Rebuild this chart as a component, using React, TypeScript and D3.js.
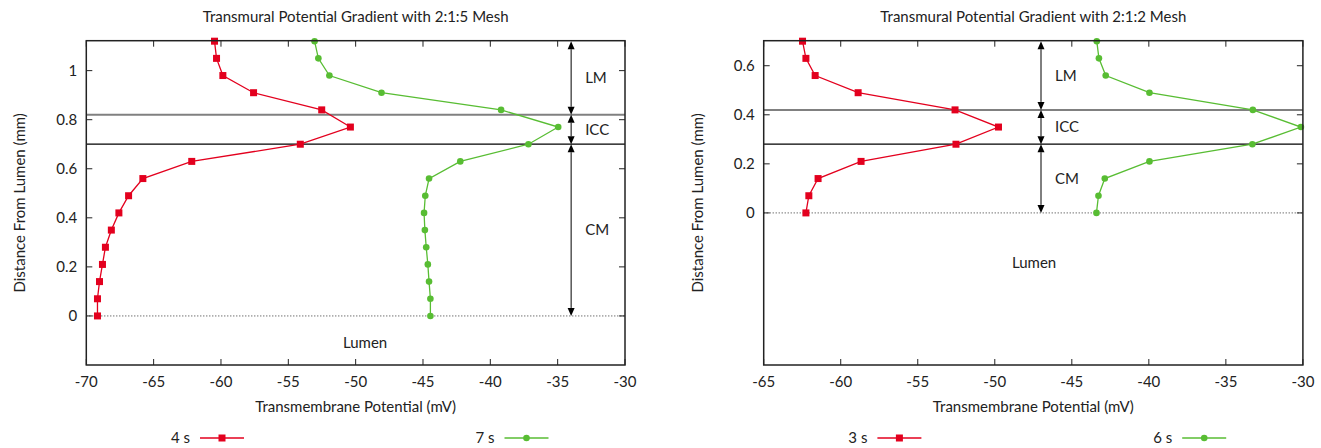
import React from 'react';
import * as d3 from 'd3';

// distance from lumen (mm) for each sample
const depth5 = [0, 0.07, 0.14, 0.21, 0.28, 0.35, 0.42, 0.49, 0.56, 0.63, 0.7, 0.77, 0.84, 0.91, 0.98, 1.05, 1.12];
const vm4s = [-69.17, -69.17, -69.02, -68.8, -68.58, -68.14, -67.58, -66.86, -65.8, -62.17, -54.11, -50.39, -52.52, -57.58, -59.86, -60.33, -60.48];
const vm7s = [-44.45, -44.45, -44.55, -44.64, -44.76, -44.86, -44.92, -44.83, -44.55, -42.23, -37.17, -34.96, -39.2, -48.08, -51.95, -52.77, -53.05];

const depth2 = [0, 0.07, 0.14, 0.21, 0.28, 0.35, 0.42, 0.49, 0.56, 0.63, 0.7];
const vm3s = [-62.26, -62.07, -61.47, -58.68, -52.52, -49.76, -52.58, -58.87, -61.66, -62.26, -62.48];
const vm6s = [-43.4, -43.27, -42.86, -39.96, -33.28, -30.13, -33.25, -39.96, -42.8, -43.24, -43.38];

const xTicks5 = [-70, -65, -60, -55, -50, -45, -40, -35, -30];
const xTicks2 = [-65, -60, -55, -50, -45, -40, -35, -30];
const yTicks5 = [0, 0.2, 0.4, 0.6, 0.8, 1];
const yTicks2 = [0, 0.2, 0.4, 0.6];

const RED = '#e3001e';
const GREEN = '#58bd33';
const FONT = 'Lato, "Open Sans", sans-serif';
const FS = 15;

type Series = { label: string; values: number[]; color: string; marker: 'square' | 'circle' };

type PanelProps = {
  left: number;
  right: number;
  title: string;
  xDomain: [number, number];
  yDomain: [number, number];
  xTicks: number[];
  yTicks: number[];
  depth: number[];
  series: Series[];
  layers: { top: number; mid: number; bottom: number }; // boundaries
  arrowX: number;
  lumen: [number, number];
  legendX: number[];
};

const TOP = 40.7;
const BOTTOM = 365;

const Arrow = ({ x, y1, y2 }: { x: number; y1: number; y2: number }) => {
  const h = 8;
  const w = 3.5;
  return (
    <g>
      <line x1={x} x2={x} y1={y1 + h} y2={y2 - h} stroke="#000" strokeWidth={1} />
      <path d={`M${x},${y1} L${x - w},${y1 + h} L${x + w},${y1 + h} Z`} fill="#000" />
      <path d={`M${x},${y2} L${x - w},${y2 - h} L${x + w},${y2 - h} Z`} fill="#000" />
    </g>
  );
};

const Panel = (p: PanelProps) => {
  const x = d3.scaleLinear().domain(p.xDomain).range([p.left, p.right]);
  const y = d3.scaleLinear().domain(p.yDomain).range([BOTTOM, TOP]);
  const fmt = (v: number) => String(v);
  const cx = (p.left + p.right) / 2;
  const tick = 6;

  const line = d3
    .line<number>()
    .x((d) => x(d))
    .y((_, i) => y(p.depth[i]));

  return (
    <g fontFamily={FONT} fill="#222">
      <text x={cx} y={22} textAnchor="middle" fontSize={FS}>
        {p.title}
      </text>

      {/* layer boundaries */}
      <line x1={p.left} x2={p.right} y1={y(p.layers.mid)} y2={y(p.layers.mid)} stroke="#808080" strokeWidth={2} />
      <line x1={p.left} x2={p.right} y1={y(p.layers.bottom)} y2={y(p.layers.bottom)} stroke="#000" strokeWidth={1.2} />
      <line x1={p.left} x2={p.right} y1={y(0)} y2={y(0)} stroke="#333" strokeWidth={1} strokeDasharray="1,2" />

      {/* ticks */}
      {p.xTicks.map((t) => (
        <g key={'x' + t}>
          <line x1={x(t)} x2={x(t)} y1={BOTTOM} y2={BOTTOM - tick} stroke="#222" />
          <line x1={x(t)} x2={x(t)} y1={TOP} y2={TOP + tick} stroke="#222" />
          <text x={x(t)} y={387} textAnchor="middle" fontSize={FS}>
            {fmt(t)}
          </text>
        </g>
      ))}
      {p.yTicks.map((t) => (
        <g key={'y' + t}>
          <line x1={p.left} x2={p.left + tick} y1={y(t)} y2={y(t)} stroke="#222" />
          <line x1={p.right} x2={p.right - tick} y1={y(t)} y2={y(t)} stroke="#222" />
          <text x={p.left - 9} y={y(t) + 5} textAnchor="end" fontSize={FS}>
            {fmt(t)}
          </text>
        </g>
      ))}

      {/* layer arrows */}
      <Arrow x={x(p.arrowX)} y1={y(p.layers.top)} y2={y(p.layers.mid)} />
      <Arrow x={x(p.arrowX)} y1={y(p.layers.mid)} y2={y(p.layers.bottom)} />
      <Arrow x={x(p.arrowX)} y1={y(p.layers.bottom)} y2={y(0)} />
      <text x={x(p.arrowX) + 14} y={y((p.layers.top + p.layers.mid) / 2) + 5} fontSize={FS}>LM</text>
      <text x={x(p.arrowX) + 14} y={y((p.layers.mid + p.layers.bottom) / 2) + 5} fontSize={FS}>ICC</text>
      <text x={x(p.arrowX) + 14} y={y(p.layers.bottom / 2) + 5} fontSize={FS}>CM</text>
      <text x={x(p.lumen[0])} y={y(p.lumen[1]) + 5} textAnchor="middle" fontSize={FS}>Lumen</text>

      {/* data */}
      {p.series.map((s) => (
        <g key={s.label}>
          <path d={line(s.values) || ''} fill="none" stroke={s.color} strokeWidth={1.3} />
          {s.values.map((v, i) =>
            s.marker === 'square' ? (
              <rect key={i} x={x(v) - 3.5} y={y(p.depth[i]) - 3.5} width={7} height={7} fill={s.color} />
            ) : (
              <circle key={i} cx={x(v)} cy={y(p.depth[i])} r={3.3} fill={s.color} />
            )
          )}
        </g>
      ))}

      {/* frame */}
      <rect x={p.left} y={TOP} width={p.right - p.left} height={BOTTOM - TOP} fill="none" stroke="#222" strokeWidth={1.5} />

      <text x={cx} y={412} textAnchor="middle" fontSize={FS}>
        Transmembrane Potential (mV)
      </text>
      <text
        transform={`translate(${p.left - 61},${(TOP + BOTTOM) / 2}) rotate(-90)`}
        textAnchor="middle"
        fontSize={FS}
      >
        Distance From Lumen (mm)
      </text>

      {/* legend */}
      {p.series.map((s, i) => {
        const lx = p.legendX[i];
        return (
          <g key={'lg' + s.label}>
            <text x={lx} y={443} textAnchor="end" fontSize={FS}>
              {s.label}
            </text>
            <line x1={lx + 10} x2={lx + 54} y1={438} y2={438} stroke={s.color} strokeWidth={1.3} />
            {s.marker === 'square' ? (
              <rect x={lx + 32 - 3.5} y={438 - 3.5} width={7} height={7} fill={s.color} />
            ) : (
              <circle cx={lx + 32} cy={438} r={3.3} fill={s.color} />
            )}
          </g>
        );
      })}
    </g>
  );
};

export default function App() {
  return (
    <svg width={1321} height={448} style={{ position: 'absolute', left: 0, top: 0, background: '#fff' }}>
      <Panel
        left={86.3}
        right={625}
        title="Transmural Potential Gradient with 2:1:5 Mesh"
        xDomain={[-70, -30]}
        yDomain={[-0.2, 1.122]}
        xTicks={xTicks5}
        yTicks={yTicks5}
        depth={depth5}
        series={[
          { label: '4 s', values: vm4s, color: RED, marker: 'square' },
          { label: '7 s', values: vm7s, color: GREEN, marker: 'circle' },
        ]}
        layers={{ top: 1.12, mid: 0.82, bottom: 0.7 }}
        arrowX={-34}
        lumen={[-49.3, -0.11]}
        legendX={[190, 494.5]}
      />
      <Panel
        left={763.7}
        right={1302.9}
        title="Transmural Potential Gradient with 2:1:2 Mesh"
        xDomain={[-65, -30]}
        yDomain={[-0.62, 0.702]}
        xTicks={xTicks2}
        yTicks={yTicks2}
        depth={depth2}
        series={[
          { label: '3 s', values: vm3s, color: RED, marker: 'square' },
          { label: '6 s', values: vm6s, color: GREEN, marker: 'circle' },
        ]}
        layers={{ top: 0.7, mid: 0.42, bottom: 0.28 }}
        arrowX={-47}
        lumen={[-47.45, -0.205]}
        legendX={[867.4, 1172.2]}
      />
    </svg>
  );
}
